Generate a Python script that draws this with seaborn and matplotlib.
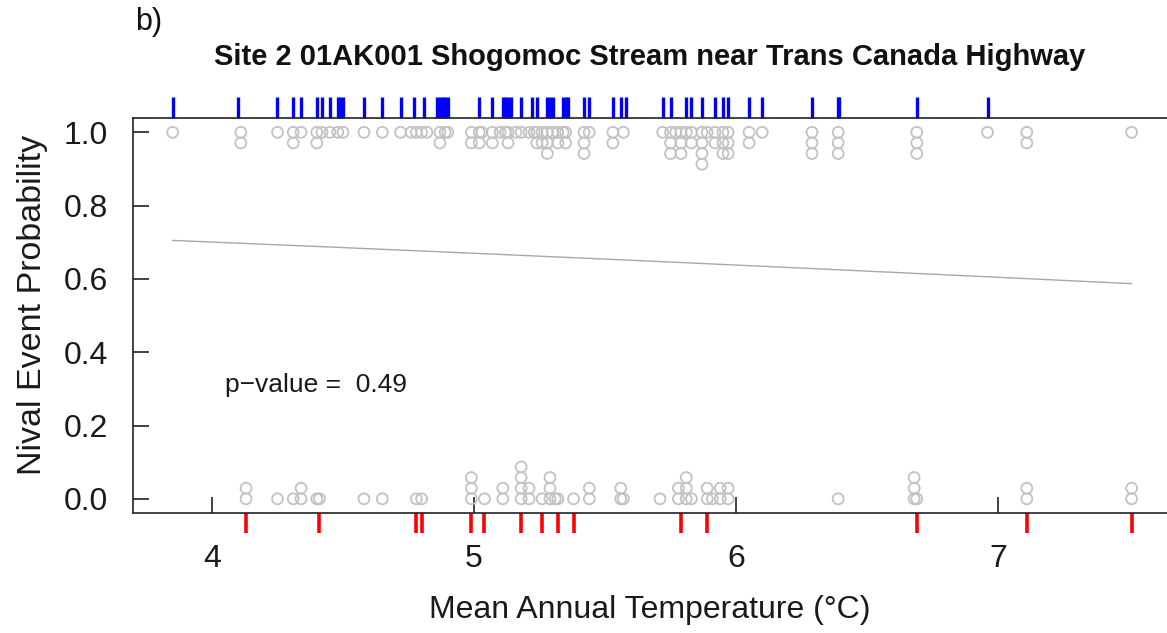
import numpy as np
import pandas as pd
import matplotlib
matplotlib.use("Agg")
import matplotlib.pyplot as plt
import seaborn as sns

# ---------------- data ----------------
# nival events (y = 1): mean annual temperature of each event (repeats stack)
nival_x = [3.85, 4.11, 4.11, 4.25, 4.31, 4.31, 4.34, 4.40, 4.40, 4.42, 4.45, 4.48,
           4.50, 4.58, 4.65, 4.72, 4.76, 4.78, 4.80, 4.82, 4.87, 4.87, 4.89, 4.90,
           4.99, 4.99, 5.02, 5.02, 5.03, 5.07, 5.07, 5.10, 5.12, 5.13, 5.13, 5.16,
           5.18, 5.21, 5.23, 5.24, 5.24, 5.26, 5.26, 5.28, 5.28, 5.28, 5.30, 5.32,
           5.32, 5.34, 5.35, 5.35, 5.42, 5.42, 5.42, 5.44, 5.53, 5.53, 5.57, 5.72,
           5.75, 5.75, 5.75, 5.77, 5.79, 5.79, 5.79, 5.81, 5.83, 5.83, 5.87, 5.87,
           5.87, 5.87, 5.89, 5.92, 5.92, 5.95, 5.95, 5.95, 5.97, 5.97, 5.97, 6.05,
           6.05, 6.10, 6.29, 6.29, 6.29, 6.39, 6.39, 6.39, 6.69, 6.69, 6.69, 6.96,
           7.11, 7.11, 7.51]
# non-nival events (y = 0)
nonnival_x = [4.13, 4.13, 4.25, 4.31, 4.34, 4.34, 4.40, 4.41, 4.58, 4.65, 4.78, 4.80,
              4.99, 4.99, 4.99, 5.04, 5.11, 5.11, 5.18, 5.18, 5.18, 5.18, 5.21, 5.21,
              5.26, 5.29, 5.29, 5.29, 5.31, 5.32, 5.38, 5.44, 5.44, 5.56, 5.56, 5.57,
              5.71, 5.78, 5.78, 5.81, 5.81, 5.81, 5.83, 5.89, 5.89, 5.91, 5.94, 5.94,
              5.97, 5.97, 6.39, 6.68, 6.68, 6.68, 6.69, 7.11, 7.11, 7.51, 7.51]
# rug marks
rug_nival = [3.85, 4.10, 4.25, 4.31, 4.34, 4.40, 4.42, 4.45, 4.48, 4.49, 4.50, 4.58,
             4.65, 4.72, 4.77, 4.81, 4.86, 4.87, 4.88, 4.89, 4.90, 5.02, 5.07, 5.11,
             5.12, 5.13, 5.14, 5.18, 5.22, 5.24, 5.28, 5.29, 5.30, 5.34, 5.35, 5.36,
             5.42, 5.44, 5.53, 5.56, 5.58, 5.72, 5.75, 5.81, 5.83, 5.87, 5.92, 5.95,
             5.97, 6.05, 6.10, 6.29, 6.39, 6.393, 6.69, 6.96]
rug_nonnival = [4.13, 4.41, 4.78, 4.80, 4.99, 5.04, 5.18, 5.26, 5.32, 5.38, 5.79, 5.89,
                6.69, 7.11, 7.51]
# fitted logistic model: logit(p) = b0 + b1 * T
fit_coef = [1.418, -0.142]
fit_range = [3.85, 7.51]
p_value = 0.49

x_ticks = [4, 5, 6, 7]
y_ticks = [0.0, 0.2, 0.4, 0.6, 0.8, 1.0]
title = "Site 2 01AK001 Shogomoc Stream near Trans Canada Highway"
panel = "b)"
xlabel = "Mean Annual Temperature (\u00b0C)"
ylabel = "Nival Event Probability"

# ---------------- stacking as in stripchart(method="stack") ----------------
step = 0.029
def stack(xs, base, direction):
    seen = {}
    ys = []
    for v in xs:
        k = seen.get(v, 0)
        seen[v] = k + 1
        ys.append(base + direction * step * k)
    return ys

pts = pd.DataFrame({
    "T": list(nival_x) + list(nonnival_x),
    "y": stack(nival_x, 1.0, -1) + stack(nonnival_x, 0.0, 1),
})
tt = np.linspace(fit_range[0], fit_range[1], 200)
curve = pd.DataFrame({"T": tt, "p": 1 / (1 + np.exp(-(fit_coef[0] + fit_coef[1] * tt)))})

# ---------------- plot ----------------
sns.set_style("ticks")
plt.rcParams["font.family"] = ["Liberation Sans", "DejaVu Sans"]

fig = plt.figure(figsize=(11.67, 6.33), dpi=100)
ax = fig.add_axes([133 / 1167, 1 - 513 / 633, 1 - 133 / 1167, (513 - 118) / 633])

sns.scatterplot(data=pts, x="T", y="y", ax=ax, marker="o", s=62,
                facecolor="none", edgecolor="#c2c2c2", linewidth=1.3, legend=False, zorder=2)
sns.lineplot(data=curve, x="T", y="p", ax=ax, color="#a8a8a8", linewidth=1.0, zorder=1)

trans = ax.get_xaxis_transform()
ax.vlines(rug_nival, 1.0, 1.053, transform=trans, color="#0000ff", linewidth=2.4, clip_on=False)
sns.rugplot(x=rug_nonnival, ax=ax, height=-0.051, color="#ff0000", linewidth=2.6,
            clip_on=False, expand_margins=False)

ax.set_xlim(3.6985, 7.645)
ax.set_ylim(-0.0387, 1.039)
ax.set_xticks(x_ticks)
ax.set_yticks(y_ticks)
ax.set_xticklabels([str(v) for v in x_ticks])
ax.set_yticklabels([f"{v:.1f}" for v in y_ticks])
ax.tick_params(axis="both", direction="in", length=11.5, width=1.2, colors="#222222",
               labelsize=23, labelcolor="#1a1a1a")
ax.tick_params(axis="x", pad=22)
ax.tick_params(axis="y", pad=18)

for side in ["left", "bottom", "top"]:
    ax.spines[side].set_visible(True)
    ax.spines[side].set_linewidth(1.2)
    ax.spines[side].set_color("#222222")
ax.spines["right"].set_visible(False)

ax.set_xlabel(xlabel, fontsize=23, color="#1a1a1a")
ax.set_ylabel(ylabel, fontsize=24.5, color="#1a1a1a")
ax.xaxis.set_label_coords(0.5, (513 - 595) / 395)
ax.yaxis.set_label_coords((48 - 133) / 1034, (513 - 305) / 395)

ax.text(4.05, 0.31, f"p\u2212value =  {p_value}", fontsize=19, color="#1a1a1a",
        ha="left", va="center")

fig.text(650 / 1167, 1 - 57 / 633, title, fontsize=21, fontweight="bold",
         ha="center", va="center", color="#111111")
fig.text(135 / 1167, 1 - 22 / 633, panel, fontsize=22, ha="left", va="center", color="#111111")

fig.savefig("out.png", dpi=100)
